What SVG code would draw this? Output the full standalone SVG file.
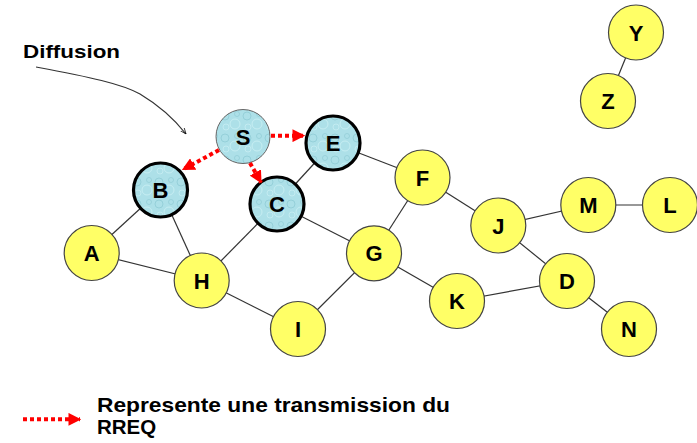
<svg xmlns="http://www.w3.org/2000/svg" width="697" height="443" viewBox="0 0 697 443">
<style>
.edge{stroke:#333;stroke-width:1.2;fill:none}
.y{fill:#ffff66;stroke:#444;stroke-width:1.2}
.b{fill:url(#water);stroke:#000;stroke-width:3.2}
.s{fill:url(#water);stroke:#666;stroke-width:1}
.lbl{font-family:"Liberation Sans",Arial,sans-serif;font-weight:bold;font-size:22px;text-anchor:middle;fill:#000}
.txt{font-family:"Liberation Sans",Arial,sans-serif;font-weight:bold;fill:#000}
.red{stroke:#ff0000;stroke-width:4;stroke-dasharray:4 3;fill:none}
</style>
<defs>
<pattern id="water" patternUnits="userSpaceOnUse" width="22" height="22">
<rect width="22" height="22" fill="#ade0e8"/>
<circle cx="5" cy="6" r="4" fill="none" stroke="#8fcbd6" stroke-width="0.8"/>
<circle cx="15" cy="14" r="5" fill="none" stroke="#c8eef3" stroke-width="0.9"/>
<circle cx="17" cy="4" r="2.5" fill="none" stroke="#8fcbd6" stroke-width="0.7"/>
<circle cx="6" cy="17" r="3" fill="none" stroke="#c8eef3" stroke-width="0.8"/>
</pattern>
<marker id="ah" viewBox="0 0 10 10" refX="9" refY="5" markerWidth="3.2" markerHeight="3.2" orient="auto" markerUnits="strokeWidth">
<path d="M0,0 L10,5 L0,10 Z" fill="#ff0000"/>
</marker>
<marker id="thin" viewBox="0 0 10 10" refX="10" refY="5" markerWidth="6" markerHeight="6" orient="auto" markerUnits="userSpaceOnUse">
<path d="M0,1 L10,5 L0,9" fill="none" stroke="#000" stroke-width="1.2"/>
</marker>
</defs>
<rect width="697" height="443" fill="#fff"/>
<g id="connectors">
<line class="edge" x1="160.5" y1="190" x2="91.7" y2="253"/>
<line class="edge" x1="160.5" y1="190" x2="201.7" y2="280.5"/>
<line class="edge" x1="91.7" y1="253" x2="201.7" y2="280.5"/>
<line class="edge" x1="201.7" y1="280.5" x2="277" y2="204"/>
<line class="edge" x1="201.7" y1="280.5" x2="298" y2="329"/>
<line class="edge" x1="277" y1="204" x2="333" y2="143"/>
<line class="edge" x1="277" y1="204" x2="374" y2="253.3"/>
<line class="edge" x1="333" y1="143" x2="422.5" y2="177.5"/>
<line class="edge" x1="422.5" y1="177.5" x2="374" y2="253.3"/>
<line class="edge" x1="422.5" y1="177.5" x2="498.3" y2="225.5"/>
<line class="edge" x1="374" y1="253.3" x2="298" y2="329"/>
<line class="edge" x1="374" y1="253.3" x2="457" y2="301"/>
<line class="edge" x1="457" y1="301" x2="567" y2="281"/>
<line class="edge" x1="498.3" y1="225.5" x2="588.3" y2="205"/>
<line class="edge" x1="498.3" y1="225.5" x2="567" y2="281"/>
<line class="edge" x1="588.3" y1="205" x2="670" y2="205"/>
<line class="edge" x1="567" y1="281" x2="629" y2="329"/>
<line class="edge" x1="636" y1="32.5" x2="608" y2="101"/>
</g>
<g id="node-A"><circle class="y" cx="91.7" cy="253" r="27.5"/><text class="lbl" x="91.7" y="261">A</text></g>
<g id="node-H"><circle class="y" cx="201.7" cy="280.5" r="27.5"/><text class="lbl" x="201.7" y="288.5">H</text></g>
<g id="node-I"><circle class="y" cx="298" cy="329" r="27.5"/><text class="lbl" x="298" y="337">I</text></g>
<g id="node-G"><circle class="y" cx="374" cy="253.3" r="27.5"/><text class="lbl" x="374" y="261.3">G</text></g>
<g id="node-F"><circle class="y" cx="422.5" cy="177.5" r="27.5"/><text class="lbl" x="422.5" y="185.5">F</text></g>
<g id="node-K"><circle class="y" cx="457" cy="301" r="27.5"/><text class="lbl" x="457" y="309">K</text></g>
<g id="node-J"><circle class="y" cx="498.3" cy="225.5" r="27.5"/><text class="lbl" x="498.3" y="233.5">J</text></g>
<g id="node-M"><circle class="y" cx="588.3" cy="205" r="27.5"/><text class="lbl" x="588.3" y="213">M</text></g>
<g id="node-L"><circle class="y" cx="670" cy="205" r="27.5"/><text class="lbl" x="670" y="213">L</text></g>
<g id="node-D"><circle class="y" cx="567" cy="281" r="27.5"/><text class="lbl" x="567" y="289">D</text></g>
<g id="node-N"><circle class="y" cx="629" cy="329" r="27.5"/><text class="lbl" x="629" y="337">N</text></g>
<g id="node-Y"><circle class="y" cx="636" cy="32.5" r="27.5"/><text class="lbl" x="636" y="40.5">Y</text></g>
<g id="node-Z"><circle class="y" cx="608" cy="101" r="27.5"/><text class="lbl" x="608" y="109">Z</text></g>
<g id="node-S"><circle class="s" cx="243" cy="136.5" r="27"/><text class="lbl" x="243" y="144.5">S</text></g>
<g id="node-E"><circle class="b" cx="333" cy="143" r="27"/><text class="lbl" x="333" y="151">E</text></g>
<g id="node-B"><circle class="b" cx="160.5" cy="190" r="27"/><text class="lbl" x="160.5" y="198">B</text></g>
<g id="node-C"><circle class="b" cx="277" cy="204" r="27"/><text class="lbl" x="277" y="212">C</text></g>
<g id="rreq">
<line class="red" x1="271" y1="135.7" x2="304" y2="135.7" marker-end="url(#ah)"/>
<line class="red" x1="219" y1="150" x2="183" y2="169.5" marker-end="url(#ah)"/>
<line class="red" x1="250" y1="163" x2="261" y2="182.5" marker-end="url(#ah)"/>
</g>
<g id="diffusion">
<text class="txt" x="23" y="58" font-size="18.5" textLength="97" lengthAdjust="spacingAndGlyphs">Diffusion</text>
<path class="edge" d="M36,67 C90,77 122,84 140,94 C160,106 175,120 186,134" marker-end="url(#thin)" stroke="#000"/>
</g>
<g id="legend">
<line class="red" x1="23" y1="419.3" x2="80" y2="419.3" marker-end="url(#ah)"/>
<text class="txt" x="97" y="412" font-size="20.5" textLength="353" lengthAdjust="spacingAndGlyphs">Represente une transmission du</text>
<text class="txt" x="97" y="433.5" font-size="20.5">RREQ</text>
</g>
</svg>
